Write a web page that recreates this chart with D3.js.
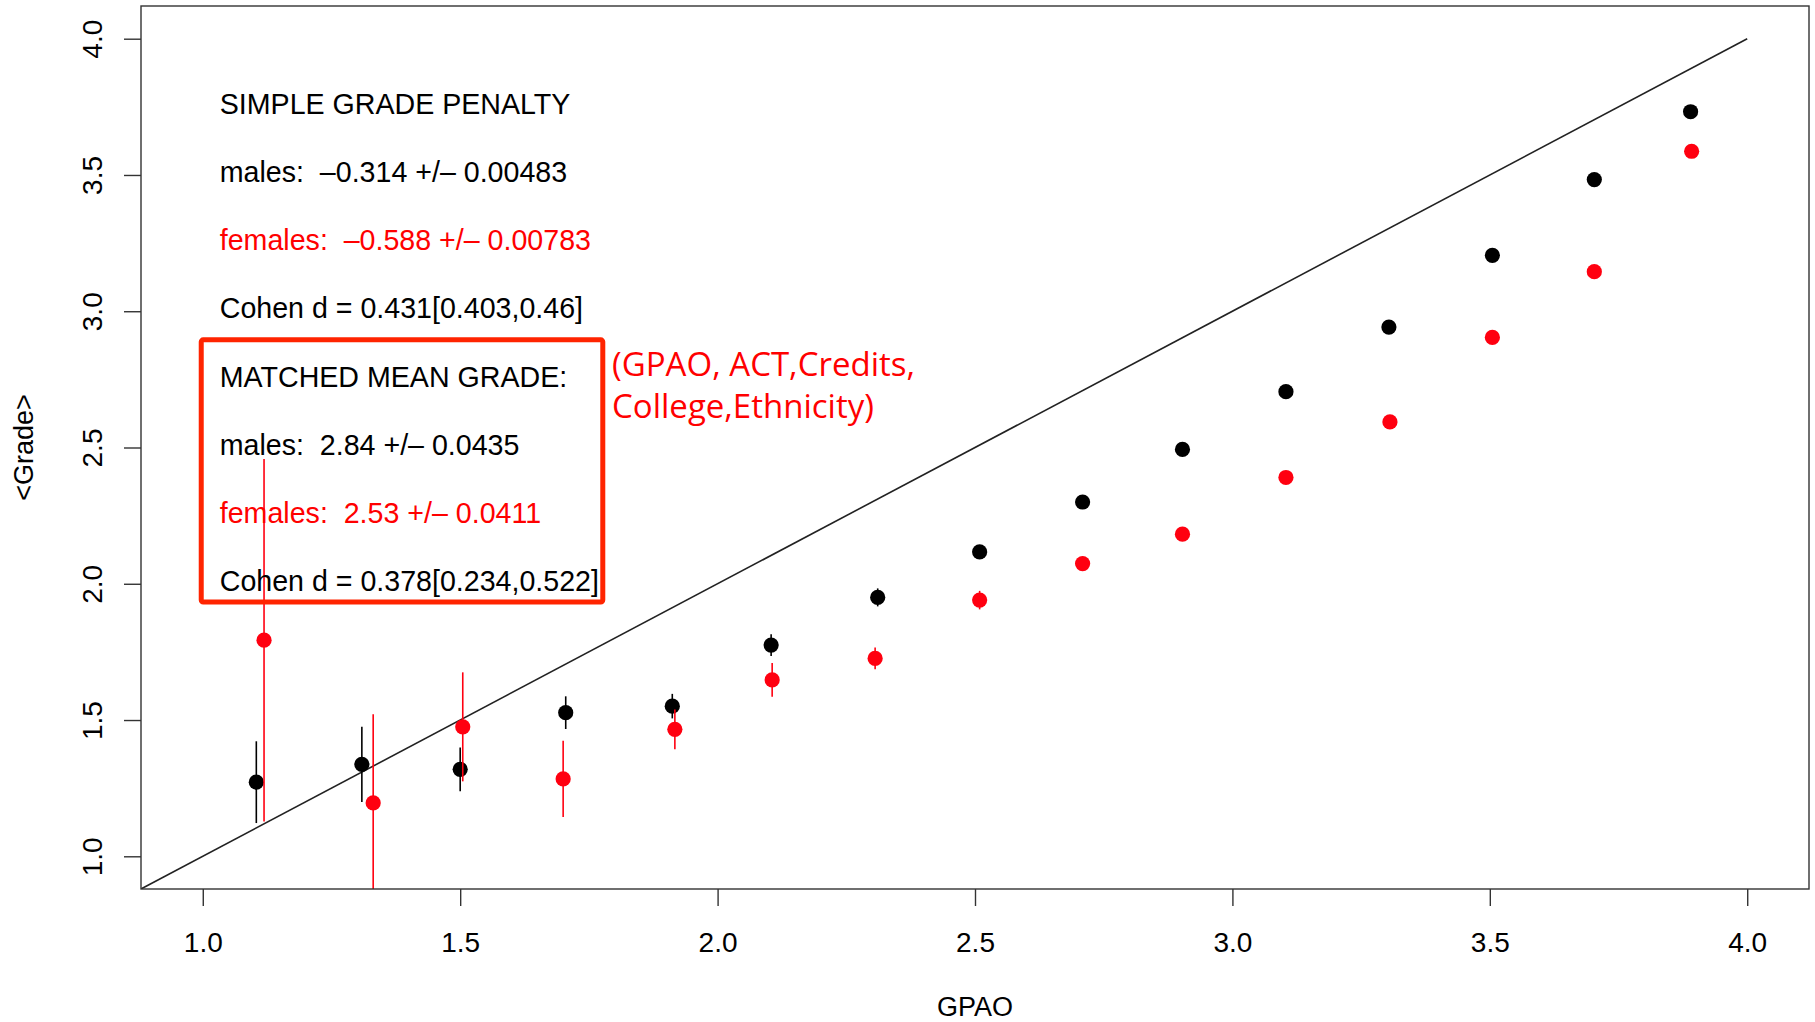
<!DOCTYPE html>
<html>
<head>
<meta charset="utf-8">
<script src="https://cdn.jsdelivr.net/npm/d3@7"></script>
<style>
  html, body { margin: 0; padding: 0; background: #fff; }
  svg text { font-family: "Liberation Sans", Arial, Helvetica, sans-serif; }
</style>
</head>
<body>
<div id="wrapper"></div>
<script>
// binned GPAO means and mean grades, males (black) and females (red)
const gpaMale = [1.104, 1.309, 1.500, 1.705, 1.912, 2.104, 2.311, 2.509, 2.709, 2.903, 3.104, 3.304, 3.505, 3.703, 3.890];
const gradeMale = [1.272, 1.337, 1.319, 1.527, 1.551, 1.775, 1.950, 2.117, 2.300, 2.493, 2.705, 2.942, 3.205, 3.483, 3.732];
const errMale = [0.150, 0.138, 0.080, 0.060, 0.045, 0.040, 0.033, 0.020, 0.015, 0.012, 0.010, 0.010, 0.010, 0.010, 0.010];

const gpaFemale = [1.119, 1.331, 1.505, 1.700, 1.917, 2.106, 2.306, 2.509, 2.709, 2.903, 3.104, 3.306, 3.505, 3.703, 3.892];
const gradeFemale = [1.793, 1.196, 1.475, 1.284, 1.466, 1.647, 1.726, 1.940, 2.074, 2.182, 2.390, 2.594, 2.904, 3.145, 3.587];
const errFemale = [0.665, 0.325, 0.200, 0.140, 0.073, 0.062, 0.040, 0.034, 0.025, 0.018, 0.015, 0.012, 0.012, 0.012, 0.012];

const xTicks = [1.0, 1.5, 2.0, 2.5, 3.0, 3.5, 4.0];
const yTicks = [1.0, 1.5, 2.0, 2.5, 3.0, 3.5, 4.0];

// text block in the upper left
const noteLines = [
  'SIMPLE GRADE PENALTY',
  'males:  \u20130.314 +/\u2013 0.00483',
  'females:  \u20130.588 +/\u2013 0.00783',
  'Cohen d = 0.431[0.403,0.46]',
  'MATCHED MEAN GRADE:',
  'males:  2.84 +/\u2013 0.0435',
  'females:  2.53 +/\u2013 0.0411',
  'Cohen d = 0.378[0.234,0.522]',
];
const noteRed = [false, false, true, false, false, false, true, false];
const noteY = [3.75, 3.5, 3.25, 3.0, 2.75, 2.5, 2.25, 2.0];
const matchVars = ['(GPAO, ACT,Credits,', 'College,Ethnicity)'];

function drawChart() {
  let dimensions = {
    width: 1815,
    height: 1022,
    margin: { top: 6, right: 6, bottom: 133, left: 141 },
  };
  dimensions.boundedWidth = dimensions.width - dimensions.margin.left - dimensions.margin.right;
  dimensions.boundedHeight = dimensions.height - dimensions.margin.top - dimensions.margin.bottom;

  const wrapper = d3.select('#wrapper')
    .append('svg')
    .attr('width', dimensions.width)
    .attr('height', dimensions.height);
  const bounds = wrapper.append('g')
    .attr('transform', `translate(${dimensions.margin.left},${dimensions.margin.top})`);

  // R style: limits 1..4 padded by 4%
  const xScale = d3.scaleLinear()
    .domain([0.88, 4.12])
    .range([0, dimensions.boundedWidth]);
  const yScale = d3.scaleLinear()
    .domain([0.88, 4.12])
    .range([dimensions.boundedHeight, 0]);

  bounds.append('clipPath').attr('id', 'plot-clip')
    .append('rect')
    .attr('width', dimensions.boundedWidth)
    .attr('height', dimensions.boundedHeight);
  const plot = bounds.append('g').attr('clip-path', 'url(#plot-clip)');

  // y = x reference line
  plot.append('line')
    .attr('x1', xScale(0.88)).attr('y1', yScale(0.88))
    .attr('x2', xScale(4)).attr('y2', yScale(4))
    .attr('stroke', '#222')
    .attr('stroke-width', 1.6);

  // text notes
  bounds.append('g').selectAll('text')
    .data(noteLines)
    .join('text')
    .attr('x', xScale(1.033))
    .attr('y', (d, i) => yScale(noteY[i]))
    .attr('dy', '0.25em')
    .attr('xml:space', 'preserve')
    .style('white-space', 'pre')
    .style('font-size', '28.6px')
    .attr('fill', (d, i) => noteRed[i] ? '#ff0000' : '#000')
    .text(d => d);

  const series = [
    { gpa: gpaMale, grade: gradeMale, err: errMale, color: '#000' },
    { gpa: gpaFemale, grade: gradeFemale, err: errFemale, color: '#ff0010' },
  ];
  series.forEach(s => {
    const pts = s.gpa.map((g, i) => ({ x: g, y: s.grade[i], e: s.err[i] }));
    const g = plot.append('g');
    g.selectAll('line')
      .data(pts)
      .join('line')
      .attr('x1', d => xScale(d.x)).attr('x2', d => xScale(d.x))
      .attr('y1', d => yScale(d.y - d.e)).attr('y2', d => yScale(d.y + d.e))
      .attr('stroke', s.color)
      .attr('stroke-width', 1.6);
    g.selectAll('circle')
      .data(pts)
      .join('circle')
      .attr('cx', d => xScale(d.x))
      .attr('cy', d => yScale(d.y))
      .attr('r', 7.6)
      .attr('fill', s.color);
  });

  // highlight box around matched results
  bounds.append('rect')
    .attr('x', xScale(0.997))
    .attr('y', yScale(2.895))
    .attr('width', xScale(1.777) - xScale(0.997))
    .attr('height', yScale(1.933) - yScale(2.895))
    .attr('rx', 2)
    .attr('fill', 'none')
    .attr('stroke', '#ff2400')
    .attr('stroke-width', 5);

  const match = bounds.append('text')
    .attr('x', xScale(1.795))
    .attr('y', yScale(2.762))
    .attr('fill', '#ff0000')
    .style('font-family', '"Open Sans", "Noto Sans", sans-serif')
    .style('font-size', '33px');
  match.selectAll('tspan')
    .data(matchVars)
    .join('tspan')
    .attr('x', xScale(1.795))
    .attr('dy', (d, i) => i === 0 ? 0 : '1.28em')
    .text(d => d);

  // frame
  bounds.append('rect')
    .attr('width', dimensions.boundedWidth)
    .attr('height', dimensions.boundedHeight)
    .attr('fill', 'none')
    .attr('stroke', '#333')
    .attr('stroke-width', 1.4);

  // axes
  const xAxis = bounds.append('g')
    .attr('transform', `translate(0,${dimensions.boundedHeight})`)
    .call(d3.axisBottom(xScale).tickValues(xTicks).tickFormat(d3.format('.1f')).tickSize(17).tickPadding(26));
  xAxis.select('.domain').remove();
  xAxis.selectAll('line').attr('stroke', '#333').attr('stroke-width', 1.4);
  xAxis.selectAll('text')
    .attr('fill', '#000')
    .style('font-size', '28px')
    .style('font-family', '"Liberation Sans", Arial, sans-serif');

  const yAxis = bounds.append('g')
    .call(d3.axisLeft(yScale).tickValues(yTicks).tickFormat(d3.format('.1f')).tickSize(17));
  yAxis.select('.domain').remove();
  yAxis.selectAll('line').attr('stroke', '#333').attr('stroke-width', 1.4);
  yAxis.selectAll('text')
    .attr('x', null)
    .attr('dy', null)
    .attr('transform', 'translate(-39.5,0) rotate(-90)')
    .attr('text-anchor', 'middle')
    .attr('fill', '#000')
    .style('font-size', '28px')
    .style('font-family', '"Liberation Sans", Arial, sans-serif');

  // axis titles
  wrapper.append('text')
    .attr('x', dimensions.margin.left + dimensions.boundedWidth / 2)
    .attr('y', 1016)
    .attr('text-anchor', 'middle')
    .style('font-size', '27px')
    .text('GPAO');
  wrapper.append('text')
    .attr('transform', `translate(33,${dimensions.margin.top + dimensions.boundedHeight / 2}) rotate(-90)`)
    .attr('text-anchor', 'middle')
    .style('font-size', '27px')
    .text('<Grade>');
}
drawChart();
</script>
</body>
</html>
